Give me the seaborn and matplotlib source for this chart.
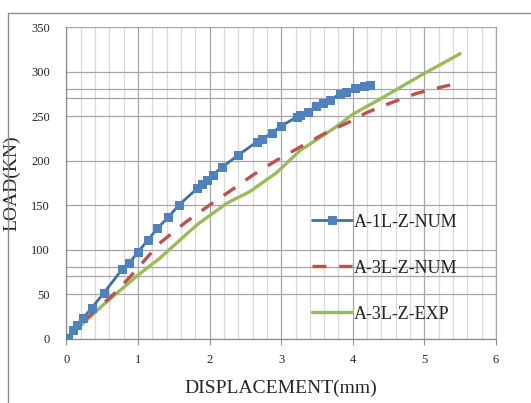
import matplotlib

matplotlib.use("Agg")

import matplotlib.pyplot as plt
from matplotlib.patches import Rectangle
from matplotlib.ticker import MultipleLocator, FixedLocator
import pandas as pd
import seaborn as sns

# A-1L-Z-NUM (numerical, with markers)
disp_1l_num = [0.0, 0.02, 0.09, 0.14, 0.23, 0.35, 0.52, 0.78, 0.88, 1.0, 1.14, 1.27,
               1.42, 1.57, 1.83, 1.89, 1.96, 2.04, 2.17, 2.40, 2.66, 2.73, 2.87, 3.0,
               3.22, 3.26, 3.38, 3.49, 3.58, 3.68, 3.82, 3.91, 4.03, 4.15, 4.24]
load_1l_num = [0, 1, 9.5, 15, 22.7, 34, 51, 78, 85, 97.5, 110.7, 123.8,
               136, 150, 168.8, 173.3, 178, 183.7, 192.3, 206, 221, 224, 231, 238.8,
               249, 251, 255, 261, 265, 268, 274.7, 277.3, 281, 283.7, 285]

# A-3L-Z-NUM (numerical, dashed)
disp_3l_num = [0.0, 0.3, 0.65, 0.89, 1.30, 1.67, 2.0, 2.31, 2.61, 2.94, 3.26, 3.63,
               3.96, 4.19, 4.54, 4.89, 5.26, 5.36]
load_3l_num = [0, 24, 49, 69.4, 107, 131, 150, 167, 184, 200.5, 215, 231.4,
               243.6, 253.7, 265, 275.4, 283, 284.7]

# A-3L-Z-EXP (experimental)
disp_3l_exp = [0.0, 0.51, 1.0, 1.30, 1.77, 1.86, 2.24, 2.56, 2.93, 3.26, 3.77,
               4.0, 4.38, 4.98, 5.5]
load_3l_exp = [0, 37.6, 71.3, 90, 124, 130, 152, 165, 186, 211, 238,
               252, 269, 297, 320]

x_ticks = [0, 1, 2, 3, 4, 5, 6]
y_ticks = [0, 50, 100, 150, 200, 250, 300, 350]
y_extra_grid = [70, 80, 270, 280]

sns.set_theme(style="white")
plt.rcParams["font.family"] = ["Liberation Serif", "DejaVu Serif"]

fig = plt.figure(figsize=(5.31, 4.03), dpi=100)
ax = fig.add_axes([0.1252, 0.16, 0.8088, 0.773])

df_a = pd.DataFrame({"x": disp_1l_num, "y": load_1l_num})
df_b = pd.DataFrame({"x": disp_3l_num, "y": load_3l_num})
df_c = pd.DataFrame({"x": disp_3l_exp, "y": load_3l_exp})

sns.lineplot(data=df_a, x="x", y="y", ax=ax, sort=False, color="#3f6fa8", lw=2.0,
             marker="s", markersize=5.5, markerfacecolor="#4f81bd",
             markeredgecolor="#4f81bd", label="A-1L-Z-NUM", zorder=5)
sns.lineplot(data=df_b, x="x", y="y", ax=ax, sort=False, color="#c0504d", lw=2.4,
             dashes=(4.2, 3.8), label="A-3L-Z-NUM", zorder=4)
sns.lineplot(data=df_c, x="x", y="y", ax=ax, sort=False, color="#9bbb59", lw=2.4,
             label="A-3L-Z-EXP", zorder=3)

ax.set_xlim(0, 6)
ax.set_ylim(0, 350)
ax.xaxis.set_major_locator(FixedLocator(x_ticks))
ax.xaxis.set_minor_locator(MultipleLocator(0.2))
ax.yaxis.set_major_locator(FixedLocator(y_ticks))
ax.yaxis.set_minor_locator(FixedLocator(y_extra_grid))

ax.grid(which="major", axis="both", color="#a6a6a6", lw=0.9)
ax.grid(which="minor", axis="x", color="#d9d9d9", lw=0.9)
ax.grid(which="minor", axis="y", color="#a6a6a6", lw=0.9)
ax.set_axisbelow(True)

ax.spines["top"].set_visible(False)
ax.spines["right"].set_color("#a6a6a6")
ax.spines["left"].set_color("#8c8c8c")
ax.spines["bottom"].set_color("#8c8c8c")
for s in ax.spines.values():
    s.set_linewidth(0.9)

ax.tick_params(axis="x", which="major", length=4, width=0.8, color="#8c8c8c",
               direction="out", bottom=True, labelsize=9, pad=7)
ax.tick_params(axis="y", which="major", length=0, labelsize=9, pad=12)
ax.tick_params(which="minor", length=0)

ax.set_xlabel("DISPLACEMENT(mm)", fontsize=14, labelpad=10)
ax.set_ylabel("LOAD(KN)", fontsize=14, labelpad=8)

leg = ax.legend(loc="center left", bbox_to_anchor=(0.572, 0.226), frameon=False,
                fontsize=13, labelspacing=1.6, handlelength=2.2, handletextpad=0.1,
                borderaxespad=0, borderpad=0)
for t in leg.get_texts():
    t.set_color("#222222")

# outer chart-area border
fig.patches.append(Rectangle((8 / 531, -0.1), 1.1, 1.1 - 13 / 403, transform=fig.transFigure,
                             fill=False, edgecolor="#8c8c8c", lw=1.0, clip_on=False))

fig.savefig("out.png", dpi=100)
